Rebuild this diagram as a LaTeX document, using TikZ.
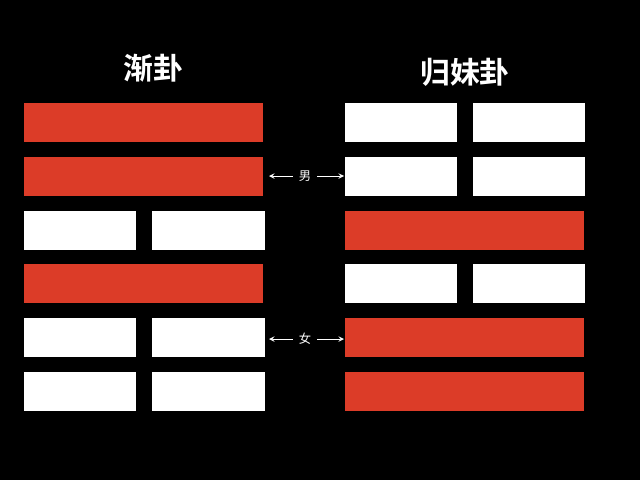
\documentclass[tikz,border=0pt]{standalone}
\usepackage{fontspec}
\newfontfamily\cjk{Noto Sans CJK SC}
\newfontfamily\cjkbold{Noto Sans CJK SC Bold}
\definecolor{yaored}{HTML}{DC3C28}
\begin{document}
\begin{tikzpicture}[x=0.02cm,y=-0.02cm,
  yang/.style={fill=yaored},
  yin/.style={fill=white},
  title/.style={text=white,font=\cjkbold\fontsize{17}{20}\selectfont},
  tag/.style={text=white,font=\cjk\fontsize{7}{8}\selectfont},
  link/.style={white,->,>=stealth}]
\fill[black] (0,0) rectangle (640,480);
\useasboundingbox (0,0) rectangle (640,480);

\node[title] (jian) at (153,68) {渐卦};
\node[title] (guimei) at (465,72) {归妹卦};

% left hexagram, top to bottom: 1 = yang, 0 = yin
\foreach \bit [count=\i from 0] in {1,1,0,1,0,0}{
  \pgfmathsetmacro{\top}{103+53.8*\i}
  \ifnum\bit=1
    \fill[yang] (24,\top) rectangle (263,\top+39);
  \else
    \fill[yin] (24,\top) rectangle (136,\top+39);
    \fill[yin] (152,\top) rectangle (265,\top+39);
  \fi
}
% right hexagram
\foreach \bit [count=\i from 0] in {0,0,1,0,1,1}{
  \pgfmathsetmacro{\top}{103+53.8*\i}
  \ifnum\bit=1
    \fill[yang] (345,\top) rectangle (584,\top+39);
  \else
    \fill[yin] (345,\top) rectangle (457,\top+39);
    \fill[yin] (473,\top) rectangle (585,\top+39);
  \fi
}

\node[tag] (nan) at (305,176) {男};
\node[tag] (nv) at (305,339) {女};
\coordinate (nanL) at (269,176);
\coordinate (nanR) at (344,176);
\coordinate (nvL) at (269,339);
\coordinate (nvR) at (344,339);
\draw[link] (nan) -- (nanL);
\draw[link] (nan) -- (nanR);
\draw[link] (nv) -- (nvL);
\draw[link] (nv) -- (nvR);
\end{tikzpicture}
\end{document}
